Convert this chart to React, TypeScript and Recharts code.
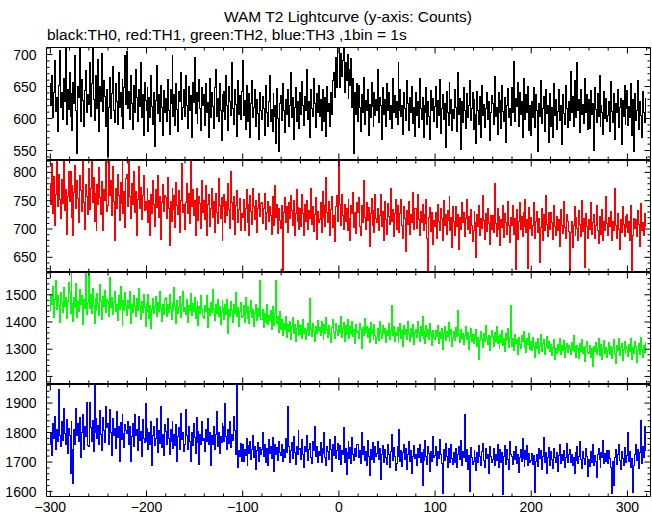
import React from 'react';
import { LineChart, Line, XAxis, YAxis } from 'recharts';

// light curve, 1 s bins starting at -300 s
const T0 = -300;
const BIN = 1;

const TH0 = [
  655, 620, 668, 602, 641, 690, 611, 633, 579, 652, 706, 618, 640, 598, 662, 627, 711, 590, 645, 614,
  672, 603, 639, 581, 657, 624, 698, 612, 545, 650, 633, 711, 596, 661, 628, 587, 644, 675, 609, 637,
  622, 688, 603, 655, 711, 630, 597, 668, 641, 615, 693, 579, 650, 626, 702, 611, 660, 634, 588, 645,
  541, 618, 664, 600, 639, 681, 612, 594, 655, 627, 590, 672, 618, 640, 603, 661, 585, 648, 699, 622,
  705, 615, 642, 598, 667, 624, 583, 651, 610, 677, 633, 596, 645, 619, 688, 601, 637, 574, 656, 628,
  612, 648, 580, 633, 602, 667, 619, 591, 640, 556, 628, 683, 608, 637, 595, 652, 617, 574, 644, 609,
  631, 596, 661, 612, 575, 646, 623, 698, 603, 637, 589, 655, 614, 580, 642, 627, 672, 599, 618, 645,
  603, 668, 621, 584, 650, 612, 636, 571, 657, 625, 696, 608, 640, 593, 627, 661, 615, 582, 649, 620,
  637, 589, 654, 610, 625, 570, 662, 601, 640, 619, 585, 648, 676, 603, 631, 596, 655, 612, 565, 638,
  611, 643, 598, 667, 620, 582, 650, 627, 604, 688, 615, 591, 646, 622, 572, 659, 606, 636, 598, 642,
  690, 605, 628, 583, 651, 614, 596, 639, 570, 623, 660, 601, 617, 645, 588, 630, 608, 567, 641, 612,
  598, 635, 616, 574, 652, 609, 587, 627, 668, 595, 614, 580, 639, 603, 621, 561, 647, 600, 548, 624,
  636, 597, 655, 612, 578, 629, 606, 645, 588, 620, 672, 601, 633, 567, 617, 649, 595, 626, 610, 584,
  640, 607, 658, 621, 589, 634, 612, 676, 598, 627, 570, 645, 615, 603, 662, 624, 586, 639, 609, 651,
  603, 629, 581, 646, 617, 595, 633, 572, 650, 611, 624, 588, 641, 606, 660, 672, 633, 695, 648, 711,
  711, 648, 702, 665, 690, 711, 641, 688, 659, 700, 632, 676, 651, 694, 618, 662, 545, 640, 607, 655,
  596, 652, 618, 580, 637, 609, 664, 590, 628, 612, 645, 573, 622, 601, 657, 619, 588, 641, 605, 630,
  612, 676, 594, 633, 620, 568, 648, 607, 629, 587, 655, 613, 640, 598, 621, 584, 663, 610, 636, 601,
  627, 590, 688, 612, 645, 603, 621, 575, 640, 616, 597, 659, 624, 582, 633, 609, 650, 592, 618, 572,
  641, 605, 627, 586, 662, 615, 598, 633, 571, 620, 609, 648, 590, 626, 603, 567, 644, 613, 631, 595,
  619, 650, 586, 628, 604, 661, 577, 615, 637, 598, 624, 555, 642, 610, 589, 656, 608, 630, 582, 614,
  600, 645, 618, 579, 672, 607, 631, 552, 626, 594, 648, 613, 585, 639, 602, 621, 660, 597, 616, 640,
  583, 629, 606, 561, 643, 612, 590, 634, 571, 651, 604, 622, 586, 615, 640, 598, 627, 566, 610, 636,
  624, 590, 666, 603, 617, 575, 640, 609, 628, 584, 652, 611, 596, 633, 562, 620, 647, 601, 615, 589,
  648, 610, 689, 595, 632, 619, 657, 588, 641, 606, 626, 571, 663, 614, 598, 637, 609, 650, 582, 620,
  574, 627, 601, 649, 586, 638, 613, 548, 624, 603, 660, 592, 616, 635, 579, 645, 608, 621, 563, 630,
  639, 588, 617, 571, 654, 604, 629, 583, 611, 646, 597, 620, 560, 637, 608, 590, 652, 615, 586, 627,
  597, 673, 609, 634, 587, 659, 618, 601, 688, 612, 630, 578, 645, 606, 622, 592, 663, 610, 637, 583,
  629, 584, 644, 607, 624, 550, 649, 614, 594, 639, 603, 668, 588, 621, 610, 575, 642, 600, 631, 596,
  604, 627, 579, 658, 611, 594, 639, 567, 624, 609, 646, 586, 617, 632, 560, 628, 603, 651, 590, 615,
  644, 589, 619, 601, 654, 574, 629, 548, 639, 597, 612, 660, 583, 626, 605, 571, 643, 610, 594, 632,
];

const TH1 = [
  781, 744, 815, 728, 792, 706, 761, 821, 739, 796, 752, 718, 788, 745, 821, 733, 770, 691, 758, 802,
  749, 801, 721, 776, 689, 764, 813, 737, 786, 754, 712, 795, 768, 731, 821, 746, 700, 779, 757, 725,
  806, 734, 771, 821, 747, 791, 714, 762, 697, 779, 743, 808, 755, 726, 784, 698, 769, 750, 821, 731,
  741, 821, 759, 786, 724, 811, 749, 679, 771, 736, 797, 760, 715, 782, 745, 821, 728, 766, 702, 790,
  796, 739, 821, 757, 719, 781, 744, 801, 729, 766, 688, 752, 810, 737, 773, 716, 759, 795, 733, 748,
  734, 771, 711, 751, 689, 761, 727, 786, 744, 704, 769, 738, 795, 720, 757, 682, 746, 778, 731, 760,
  756, 719, 791, 737, 671, 749, 714, 771, 734, 759, 702, 783, 741, 726, 768, 693, 750, 815, 729, 744,
  699, 746, 781, 727, 763, 709, 821, 739, 769, 724, 751, 688, 772, 736, 715, 758, 745, 701, 785, 730,
  751, 717, 776, 689, 743, 761, 704, 736, 771, 721, 748, 694, 762, 730, 709, 789, 741, 718, 756, 680,
  739, 761, 711, 749, 724, 781, 734, 701, 801, 746, 717, 757, 690, 742, 768, 712, 735, 754, 698, 727,
  721, 753, 697, 736, 769, 711, 743, 689, 759, 731, 708, 772, 740, 716, 750, 694, 737, 762, 722, 745,
  746, 709, 736, 763, 699, 729, 749, 714, 739, 724, 690, 758, 731, 706, 777, 720, 743, 692, 737, 715,
  701, 741, 624, 729, 756, 711, 739, 694, 746, 719, 760, 733, 706, 751, 688, 727, 770, 713, 738, 699,
  736, 704, 761, 727, 689, 743, 714, 751, 699, 733, 718, 772, 708, 740, 695, 726, 755, 681, 731, 712,
  717, 746, 694, 766, 721, 741, 704, 791, 729, 711, 748, 688, 735, 757, 702, 724, 678, 739, 760, 713,
  821, 744, 707, 761, 724, 699, 743, 714, 736, 697, 752, 718, 680, 741, 727, 765, 703, 730, 692, 746,
  729, 756, 704, 689, 741, 711, 786, 721, 699, 746, 715, 738, 670, 728, 754, 707, 733, 694, 761, 718,
  711, 736, 697, 724, 761, 704, 731, 679, 749, 717, 690, 745, 722, 708, 772, 713, 735, 686, 727, 752,
  699, 741, 714, 694, 727, 753, 707, 684, 739, 719, 661, 732, 708, 748, 690, 725, 711, 765, 700, 736,
  736, 701, 761, 717, 689, 731, 712, 744, 697, 726, 709, 752, 684, 624, 720, 738, 695, 729, 673, 715,
  704, 729, 684, 743, 714, 697, 736, 719, 679, 751, 706, 725, 690, 733, 715, 758, 698, 721, 668, 740,
  713, 689, 739, 704, 726, 664, 721, 699, 746, 711, 730, 686, 718, 753, 700, 722, 692, 734, 707, 678,
  697, 731, 711, 649, 726, 704, 741, 689, 719, 701, 760, 715, 682, 728, 695, 737, 709, 672, 724, 700,
  724, 694, 781, 709, 687, 736, 699, 723, 671, 716, 703, 741, 685, 727, 712, 690, 748, 706, 676, 720,
  706, 741, 691, 719, 628, 734, 681, 713, 746, 699, 722, 687, 730, 705, 752, 693, 716, 631, 738, 701,
  721, 689, 706, 746, 684, 713, 731, 694, 719, 641, 702, 737, 680, 725, 698, 759, 708, 686, 729, 712,
  699, 729, 711, 681, 741, 704, 689, 723, 697, 716, 670, 735, 707, 692, 748, 702, 683, 726, 714, 695,
  625, 694, 713, 667, 706, 739, 689, 721, 701, 679, 732, 708, 687, 751, 696, 718, 632, 727, 704, 684,
  716, 699, 746, 691, 711, 726, 684, 706, 741, 697, 674, 722, 705, 690, 735, 680, 713, 698, 757, 709,
  689, 721, 704, 731, 679, 713, 697, 771, 707, 684, 728, 700, 663, 716, 694, 739, 708, 687, 723, 702,
  726, 694, 713, 679, 741, 624, 689, 719, 701, 716, 686, 733, 708, 670, 745, 697, 712, 688, 728, 705,
];

const TH2 = [
  1441, 1502, 1466, 1531, 1418, 1482, 1552, 1447, 1496, 1461, 1397, 1510, 1473, 1435, 1527, 1458, 1489, 1412, 1475, 1544,
  1509, 1431, 1586, 1468, 1402, 1491, 1454, 1541, 1416, 1477, 1438, 1520, 1463, 1499, 1390, 1484, 1451, 1586, 1429, 1472,
  1586, 1448, 1501, 1433, 1522, 1459, 1394, 1486, 1443, 1506, 1467, 1425, 1538, 1474, 1410, 1492, 1457, 1516, 1436, 1481,
  1474, 1419, 1562, 1454, 1491, 1428, 1471, 1512, 1439, 1466, 1405, 1497, 1447, 1530, 1459, 1386, 1480, 1441, 1508, 1462,
  1424, 1479, 1449, 1511, 1393, 1466, 1434, 1496, 1456, 1419, 1485, 1441, 1524, 1462, 1409, 1477, 1436, 1500, 1453, 1382,
  1469, 1439, 1501, 1414, 1461, 1378, 1446, 1486, 1431, 1456, 1492, 1420, 1473, 1437, 1513, 1450, 1401, 1466, 1428, 1481,
  1489, 1421, 1464, 1436, 1502, 1449, 1409, 1471, 1441, 1526, 1457, 1396, 1478, 1432, 1455, 1494, 1418, 1460, 1511, 1439,
  1454, 1429, 1481, 1399, 1461, 1444, 1506, 1424, 1469, 1437, 1490, 1412, 1452, 1475, 1388, 1458, 1431, 1497, 1446, 1420,
  1414, 1461, 1439, 1496, 1379, 1451, 1424, 1471, 1434, 1521, 1447, 1405, 1466, 1430, 1483, 1419, 1458, 1392, 1440, 1478,
  1449, 1409, 1466, 1429, 1481, 1359, 1446, 1419, 1476, 1441, 1398, 1463, 1432, 1508, 1422, 1455, 1384, 1437, 1470, 1416,
  1424, 1461, 1399, 1491, 1434, 1414, 1456, 1394, 1439, 1478, 1417, 1446, 1385, 1430, 1466, 1405, 1451, 1422, 1551, 1411,
  1409, 1446, 1379, 1431, 1399, 1466, 1391, 1424, 1404, 1441, 1372, 1456, 1413, 1387, 1430, 1553, 1396, 1421, 1362, 1438,
  1371, 1409, 1349, 1396, 1374, 1421, 1344, 1391, 1364, 1401, 1335, 1382, 1418, 1357, 1390, 1328, 1376, 1405, 1352, 1387,
  1354, 1386, 1341, 1411, 1359, 1378, 1336, 1369, 1394, 1350, 1488, 1372, 1346, 1396, 1364, 1330, 1383, 1358, 1405, 1367,
  1381, 1349, 1401, 1364, 1334, 1391, 1359, 1416, 1374, 1344, 1388, 1356, 1325, 1379, 1408, 1361, 1340, 1395, 1368, 1352,
  1389, 1361, 1421, 1344, 1376, 1399, 1329, 1386, 1354, 1411, 1366, 1338, 1382, 1357, 1403, 1345, 1374, 1321, 1391, 1360,
  1366, 1339, 1394, 1371, 1304, 1381, 1349, 1414, 1361, 1384, 1343, 1375, 1326, 1398, 1357, 1372, 1335, 1390, 1351, 1320,
  1344, 1376, 1331, 1401, 1359, 1339, 1389, 1356, 1378, 1323, 1367, 1349, 1395, 1336, 1370, 1461, 1352, 1384, 1329, 1363,
  1351, 1381, 1324, 1366, 1394, 1341, 1369, 1309, 1386, 1354, 1372, 1337, 1403, 1359, 1328, 1377, 1345, 1390, 1318, 1362,
  1374, 1344, 1401, 1361, 1329, 1384, 1351, 1419, 1339, 1366, 1322, 1388, 1348, 1373, 1334, 1395, 1356, 1312, 1369, 1342,
  1336, 1369, 1346, 1389, 1321, 1361, 1339, 1376, 1299, 1356, 1383, 1331, 1364, 1346, 1398, 1327, 1353, 1372, 1310, 1344,
  1364, 1331, 1379, 1346, 1444, 1349, 1326, 1371, 1339, 1359, 1316, 1352, 1385, 1334, 1362, 1300, 1348, 1376, 1329, 1355,
  1321, 1354, 1336, 1374, 1311, 1344, 1261, 1331, 1364, 1341, 1305, 1359, 1327, 1386, 1338, 1316, 1350, 1295, 1345, 1368,
  1344, 1311, 1361, 1329, 1384, 1321, 1346, 1301, 1354, 1326, 1369, 1314, 1339, 1292, 1357, 1333, 1378, 1308, 1342, 1460,
  1311, 1339, 1296, 1354, 1321, 1336, 1281, 1344, 1316, 1301, 1349, 1327, 1366, 1305, 1332, 1289, 1341, 1318, 1358, 1299,
  1329, 1296, 1344, 1311, 1271, 1324, 1301, 1339, 1286, 1314, 1355, 1293, 1320, 1337, 1279, 1310, 1346, 1302, 1327, 1290,
  1291, 1319, 1276, 1306, 1334, 1261, 1301, 1286, 1319, 1296, 1340, 1280, 1312, 1297, 1331, 1268, 1305, 1322, 1289, 1314,
  1304, 1281, 1324, 1296, 1349, 1291, 1309, 1271, 1314, 1301, 1265, 1320, 1293, 1336, 1285, 1306, 1255, 1311, 1330, 1288,
  1286, 1314, 1271, 1301, 1236, 1309, 1291, 1324, 1281, 1304, 1338, 1276, 1297, 1319, 1262, 1302, 1331, 1284, 1308, 1270,
  1294, 1324, 1281, 1309, 1266, 1301, 1334, 1286, 1249, 1314, 1296, 1340, 1278, 1305, 1321, 1259, 1298, 1327, 1283, 1311,
  1301, 1274, 1319, 1291, 1339, 1264, 1306, 1286, 1329, 1309, 1251, 1296, 1322, 1280, 1343, 1299, 1268, 1315, 1289, 1325,
];

const TH3 = [
  1761, 1801, 1721, 1831, 1779, 1856, 1741, 1811, 1769, 1946, 1790, 1752, 1838, 1774, 1882, 1797, 1760, 1845, 1728, 1815,
  1789, 1661, 1836, 1741, 1626, 1811, 1759, 1881, 1791, 1829, 1768, 1850, 1715, 1799, 1862, 1743, 1820, 1785, 1902, 1756,
  1751, 1901, 1816, 1771, 1841, 1734, 1963, 1801, 1846, 1779, 1823, 1760, 1874, 1795, 1739, 1852, 1806, 1767, 1888, 1817,
  1829, 1761, 1879, 1799, 1721, 1849, 1791, 1814, 1746, 1871, 1784, 1822, 1703, 1835, 1775, 1860, 1797, 1748, 1827, 1806,
  1796, 1839, 1761, 1821, 1701, 1786, 1829, 1751, 1861, 1789, 1812, 1738, 1855, 1773, 1802, 1720, 1844, 1781, 1766, 1897,
  1771, 1814, 1741, 1801, 1759, 1836, 1689, 1791, 1819, 1756, 1779, 1847, 1733, 1806, 1764, 1888, 1750, 1795, 1722, 1828,
  1804, 1761, 1849, 1781, 1726, 1809, 1771, 1839, 1746, 1794, 1757, 1826, 1702, 1787, 1817, 1742, 1865, 1776, 1799, 1735,
  1761, 1879, 1789, 1741, 1819, 1771, 1701, 1799, 1756, 1829, 1783, 1728, 1851, 1766, 1805, 1690, 1792, 1758, 1836, 1774,
  1779, 1736, 1809, 1771, 1849, 1761, 1799, 1689, 1789, 1759, 1820, 1744, 1793, 1870, 1752, 1801, 1728, 1786, 1765, 1832,
  1819, 1771, 1899, 1786, 1741, 1809, 1762, 1838, 1749, 1795, 1773, 1853, 1808, 1726, 1963, 1681, 1739, 1719, 1762, 1701,
  1759, 1701, 1744, 1721, 1779, 1689, 1756, 1729, 1771, 1709, 1744, 1790, 1716, 1752, 1675, 1738, 1767, 1702, 1748, 1726,
  1741, 1799, 1719, 1761, 1699, 1746, 1689, 1776, 1729, 1754, 1711, 1783, 1737, 1668, 1760, 1725, 1748, 1704, 1771, 1732,
  1721, 1759, 1701, 1742, 1715, 1781, 1731, 1890, 1754, 1699, 1740, 1766, 1712, 1785, 1733, 1690, 1752, 1727, 1808, 1744,
  1746, 1709, 1776, 1724, 1681, 1751, 1734, 1791, 1704, 1741, 1762, 1716, 1695, 1770, 1738, 1820, 1720, 1753, 1698, 1735,
  1721, 1766, 1699, 1746, 1729, 1801, 1714, 1689, 1751, 1736, 1707, 1775, 1742, 1668, 1758, 1723, 1787, 1711, 1740, 1762,
  1709, 1756, 1691, 1739, 1724, 1816, 1699, 1746, 1659, 1731, 1768, 1713, 1750, 1695, 1782, 1726, 1704, 1745, 1720, 1760,
  1761, 1714, 1739, 1694, 1801, 1726, 1751, 1704, 1736, 1689, 1772, 1718, 1655, 1744, 1709, 1766, 1730, 1697, 1752, 1720,
  1729, 1771, 1709, 1746, 1639, 1724, 1756, 1699, 1741, 1714, 1690, 1760, 1727, 1681, 1735, 1792, 1706, 1748, 1718, 1670,
  1694, 1751, 1719, 1811, 1701, 1739, 1684, 1731, 1761, 1709, 1745, 1676, 1725, 1770, 1703, 1738, 1662, 1720, 1756, 1712,
  1726, 1689, 1746, 1714, 1761, 1699, 1731, 1621, 1741, 1706, 1774, 1718, 1690, 1752, 1728, 1667, 1735, 1703, 1788, 1715,
  1721, 1751, 1689, 1736, 1711, 1775, 1725, 1696, 1594, 1742, 1704, 1763, 1718, 1680, 1747, 1727, 1699, 1758, 1712, 1690,
  1731, 1699, 1746, 1681, 1726, 1754, 1709, 1772, 1689, 1735, 1714, 1861, 1702, 1741, 1676, 1722, 1600, 1748, 1716, 1693,
  1701, 1739, 1716, 1671, 1731, 1699, 1756, 1719, 1689, 1736, 1764, 1706, 1682, 1745, 1711, 1727, 1660, 1752, 1720, 1697,
  1709, 1746, 1689, 1726, 1704, 1761, 1681, 1719, 1741, 1699, 1733, 1590, 1718, 1757, 1692, 1742, 1710, 1675, 1768, 1724,
  1719, 1691, 1734, 1709, 1751, 1694, 1726, 1666, 1716, 1741, 1701, 1779, 1713, 1684, 1738, 1707, 1755, 1688, 1729, 1700,
  1706, 1729, 1691, 1721, 1598, 1701, 1726, 1684, 1746, 1711, 1739, 1676, 1720, 1782, 1697, 1733, 1662, 1715, 1750, 1703,
  1689, 1736, 1709, 1679, 1746, 1714, 1699, 1731, 1669, 1721, 1758, 1695, 1727, 1704, 1740, 1683, 1716, 1764, 1698, 1725,
  1741, 1699, 1726, 1689, 1716, 1661, 1731, 1704, 1751, 1694, 1720, 1768, 1707, 1677, 1735, 1712, 1690, 1747, 1719, 1652,
  1709, 1684, 1736, 1699, 1761, 1689, 1721, 1701, 1649, 1726, 1745, 1708, 1680, 1733, 1716, 1772, 1694, 1728, 1703, 1740,
  1696, 1739, 1711, 1681, 1594, 1701, 1621, 1714, 1744, 1691, 1727, 1758, 1705, 1673, 1736, 1712, 1688, 1750, 1719, 1698,
  1721, 1799, 1701, 1734, 1681, 1711, 1596, 1689, 1726, 1761, 1705, 1744, 1678, 1731, 1840, 1696, 1752, 1715, 1820, 1740,
];

const X_DOMAIN = [-304, 324];
const X_MAJOR = [-300, -200, -100, 0, 100, 200, 300];
const X_MINOR = [
  -300, -280, -260, -240, -220, -200, -180, -160, -140, -120, -100, -80, -60, -40, -20,
  0, 20, 40, 60, 80, 100, 120, 140, 160, 180, 200, 220, 240, 260, 280, 300, 320,
];

const Y0_DOMAIN = [536, 711];
const Y0_MAJOR = [550, 600, 650, 700];
const Y0_MINOR = [540, 550, 560, 570, 580, 590, 600, 610, 620, 630, 640, 650, 660, 670, 680, 690, 700, 710];

const Y1_DOMAIN = [625, 821];
const Y1_MAJOR = [650, 700, 750, 800];
const Y1_MINOR = [630, 640, 650, 660, 670, 680, 690, 700, 710, 720, 730, 740, 750, 760, 770, 780, 790, 800, 810, 820];

const Y2_DOMAIN = [1174, 1582];
const Y2_MAJOR = [1200, 1300, 1400, 1500];
const Y2_MINOR = [1180, 1200, 1220, 1240, 1260, 1280, 1300, 1320, 1340, 1360, 1380, 1400, 1420, 1440, 1460, 1480, 1500, 1520, 1540, 1560, 1580];

const Y3_DOMAIN = [1583, 1963];
const Y3_MAJOR = [1600, 1700, 1800, 1900];
const Y3_MINOR = [1600, 1620, 1640, 1660, 1680, 1700, 1720, 1740, 1760, 1780, 1800, 1820, 1840, 1860, 1880, 1900, 1920, 1940, 1960];

const rows = TH0.map((v, i) => ({
  t: T0 + i * BIN,
  th0: v,
  th1: TH1[i],
  th2: TH2[i],
  th3: TH3[i],
}));

const FONT = '"Liberation Sans", Arial, Helvetica, sans-serif';
const MAJOR_LEN = 6;
const MINOR_LEN = 3;

interface PanelProps {
  border: number; // pixel row of the top frame line
  plotH: number;
  dataKey: string;
  color: string;
  domain: number[];
  majors: number[];
  minors: number[];
  last?: boolean;
}

function Panel({ border, plotH, dataKey, color, domain, majors, minors, last }: PanelProps) {
  const bottomH = last ? 24 : 1;

  const leftTick = (p: any) => {
    const major = majors.includes(p.payload.value);
    return (
      <g>
        <line x1={p.x} x2={p.x + (major ? MAJOR_LEN : MINOR_LEN)} y1={p.y} y2={p.y} stroke="#000" />
        {major && (
          <text x={p.x - 10} y={p.y} dy="0.36em" textAnchor="end" fontSize={14} fontFamily={FONT} fill="#000">
            {p.payload.value}
          </text>
        )}
      </g>
    );
  };

  const rightTick = (p: any) => {
    const major = majors.includes(p.payload.value);
    return <line x1={p.x} x2={p.x - (major ? MAJOR_LEN : MINOR_LEN)} y1={p.y} y2={p.y} stroke="#000" />;
  };

  const topTick = (p: any) => {
    const major = X_MAJOR.includes(p.payload.value);
    return <line x1={p.x} x2={p.x} y1={p.y} y2={p.y + (major ? MAJOR_LEN : MINOR_LEN)} stroke="#000" />;
  };

  const bottomTick = (p: any) => {
    const v = p.payload.value;
    const major = X_MAJOR.includes(v);
    return (
      <g>
        <line x1={p.x} x2={p.x} y1={p.y} y2={p.y - (major ? MAJOR_LEN : MINOR_LEN)} stroke="#000" />
        {last && major && (
          <text x={p.x} y={p.y + 15.5} textAnchor="middle" fontSize={14} fontFamily={FONT} fill="#000">
            {String(v).replace('-', '\u2212')}
          </text>
        )}
      </g>
    );
  };

  return (
    <div style={{ position: 'absolute', left: 0, top: border - 1 }}>
      <LineChart
        width={652}
        height={0.5 + 1 + plotH + bottomH}
        data={rows}
        margin={{ top: 0.5, right: 0.5, bottom: 0, left: 0.5 }}
      >
        <XAxis
          xAxisId="b"
          dataKey="t"
          type="number"
          domain={X_DOMAIN}
          allowDataOverflow
          ticks={X_MINOR}
          interval={0}
          height={bottomH}
          stroke="#000"
          tickLine={false}
          tickSize={0}
          tickMargin={0}
          tick={bottomTick}
        />
        <XAxis
          xAxisId="t"
          orientation="top"
          dataKey="t"
          type="number"
          domain={X_DOMAIN}
          allowDataOverflow
          ticks={X_MINOR}
          interval={0}
          height={1}
          stroke="#000"
          tickLine={false}
          tickSize={0}
          tickMargin={0}
          tick={topTick}
        />
        <YAxis
          yAxisId="l"
          type="number"
          domain={domain}
          allowDataOverflow
          ticks={minors}
          interval={0}
          width={46}
          stroke="#000"
          tickLine={false}
          tickSize={0}
          tickMargin={0}
          tick={leftTick}
        />
        <YAxis
          yAxisId="r"
          orientation="right"
          type="number"
          domain={domain}
          allowDataOverflow
          ticks={minors}
          interval={0}
          width={1}
          stroke="#000"
          tickLine={false}
          tickSize={0}
          tickMargin={0}
          tick={rightTick}
        />
        <Line
          xAxisId="b"
          yAxisId="l"
          dataKey={dataKey}
          type="step"
          stroke={color}
          strokeWidth={1}
          dot={false}
          isAnimationActive={false}
        />
      </LineChart>
    </div>
  );
}

export default function App() {
  return (
    <div style={{ position: 'absolute', left: 0, top: 0, width: 652, height: 515, background: '#fff' }}>
      <style>{'.recharts-line-curve { shape-rendering: crispEdges; }'}</style>
      <svg width={652} height={46} style={{ position: 'absolute', left: 0, top: 0 }}>
        <text x={348} y={22} textAnchor="middle" fontSize={15.5} fontFamily={FONT} fill="#000">
          WAM T2 Lightcurve (y-axis: Counts)
        </text>
        <text x={47} y={40} fontSize={15.5} fontFamily={FONT} fill="#000">
          black:TH0, red:TH1, green:TH2, blue:TH3 ,1bin = 1s
        </text>
      </svg>
      <Panel border={47} plotH={112} dataKey="th0" color="#000000" domain={Y0_DOMAIN} majors={Y0_MAJOR} minors={Y0_MINOR} />
      <Panel border={160} plotH={111} dataKey="th1" color="#ff0000" domain={Y1_DOMAIN} majors={Y1_MAJOR} minors={Y1_MINOR} />
      <Panel border={272} plotH={111} dataKey="th2" color="#00ff00" domain={Y2_DOMAIN} majors={Y2_MAJOR} minors={Y2_MINOR} />
      <Panel border={384} plotH={112} dataKey="th3" color="#0000ff" domain={Y3_DOMAIN} majors={Y3_MAJOR} minors={Y3_MINOR} last />
    </div>
  );
}
